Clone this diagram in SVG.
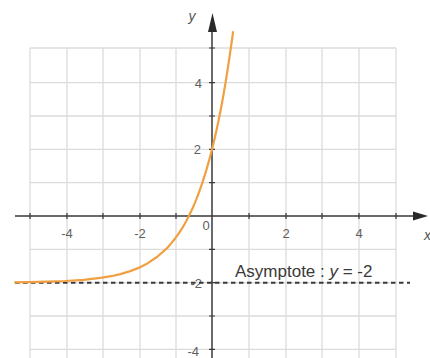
<svg xmlns="http://www.w3.org/2000/svg" width="430" height="358" viewBox="0 0 430 358">
<defs>
<style>
.grid{stroke:#dcdcdc;stroke-width:1.3;fill:none}
.axis{stroke:#3a3a3a;stroke-width:1.5;fill:none}
.tick{stroke:#3a3a3a;stroke-width:1.2}
.lbl{font-family:"Liberation Sans",Arial,sans-serif;font-size:13px;fill:#606060}
.var{font-family:"Liberation Sans",Arial,sans-serif;font-size:14px;font-style:italic;fill:#555}
.asym{stroke:#3a3a3a;stroke-width:2;stroke-dasharray:4.5 3.5;fill:none}
.curve{stroke:#f0a040;stroke-width:2.2;fill:none;stroke-linejoin:round;stroke-linecap:round}
.atext{font-family:"Liberation Sans",Arial,sans-serif;font-size:17px;fill:#3a3a3a}
</style>
</defs>
<rect width="430" height="358" fill="#ffffff"/>
<g id="grid" class="grid">
<path d="M30 48V358M67 48V358M103 48V358M140 48V358M176 48V358M249 48V358M286 48V358M322 48V358M359 48V358M396 48V358"/>
<path d="M30 48H396M30 82.7H396M30 116H396M30 149.3H396M30 182.7H396M30 249.3H396M30 282.7H396M30 316H396M30 349.3H396"/>
</g>
<g id="axes">
<path class="axis" d="M15 216H416M212 358V30"/>
<polygon points="428,216 413,211.5 413,220.5" fill="#2a2a2a"/>
<polygon points="212.5,13 208,32 217,32" fill="#2a2a2a"/>
<path class="tick" d="M30 213V219M67 213V219M103 213V219M140 213V219M176 213V219M249 213V219M286 213V219M322 213V219M359 213V219M396 213V219"/>
<path class="tick" d="M209 48H215M209 82.7H215M209 116H215M209 149.3H215M209 182.7H215M209 249.3H215M209 282.7H215M209 316H215M209 349.3H215"/>
</g>
<g id="labels">
<text class="lbl" x="67" y="238" text-anchor="middle">-4</text>
<text class="lbl" x="140" y="238" text-anchor="middle">-2</text>
<text class="lbl" x="206" y="230" text-anchor="middle">0</text>
<text class="lbl" x="286" y="238" text-anchor="middle">2</text>
<text class="lbl" x="359" y="238" text-anchor="middle">4</text>
<text class="lbl" x="202" y="87.5" text-anchor="end">4</text>
<text class="lbl" x="201" y="154" text-anchor="end">2</text>
<text class="lbl" x="202" y="287.5" text-anchor="end">-2</text>
<text class="lbl" x="199" y="356" text-anchor="end">-4</text>
<text class="var" x="192" y="21" text-anchor="middle">y</text>
<text class="var" x="424" y="240">x</text>
</g>
<g id="connectors">
<path id="asymptote" class="asym" d="M15 282.7H410"/>
<path id="curve" class="curve" d="M15.1 282.3 L28.7 282.1 L47 281.7 L65.3 281 L83.7 279.8 L102 277.7 L111.2 276.2 L120.3 274.1 L129.5 271.4 L138.7 267.9 L147.8 263.2 L157 257 L166.2 248.9 L170.75 243.9 L175.3 238.2 L177.6 235.1 L179.9 231.7 L182.2 228.1 L184.5 224.2 L186.8 220 L189.1 215.6 L191.4 210.8 L193.7 205.7 L196 200.2 L198.25 194.3 L200.5 188.1 L202.8 181.4 L205.1 174.2 L207.4 166.4 L209.7 158.2 L212 149.3 L214.3 139.9 L216.6 129.7 L218.9 118.8 L221.2 107.2 L223.5 94.7 L225.75 81.4 L228 67.1 L230.3 51.7 L233.1 32"/>
</g>
<g id="asymptote-label">
<text class="atext" x="235" y="277">Asymptote : <tspan font-style="italic">y</tspan> =  -2</text>
</g>
</svg>
